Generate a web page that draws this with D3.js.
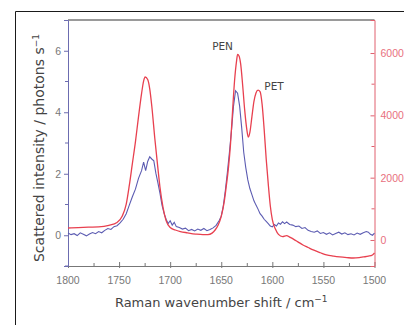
<!DOCTYPE html>
<html lang="en">
<head>
<meta charset="utf-8">
<title>Raman spectra</title>
<script src="https://d3js.org/d3.v7.min.js"></script>
<style>
  body { margin: 0; background: #fff; }
  svg { display: block; font-family: "DejaVu Sans", sans-serif; }
</style>
</head>
<body>
<div id="chart"></div>
<script>
// wavenumber (cm-1) and scattered intensity (photons s-1), blue trace, left axis
var blueShift = [1800,1797,1794,1791,1788,1785,1782,1779,1776,1773,1770,1767,1764,1761,1758,1755,1752,1749,1746,1743,
  1740,1737,1734,1731,1728,1726,1724,1722,1720,1718,1716,1714,1712,1710,1708,1706,1704,1702,1700,1698,
  1696,1694,1691,1688,1685,1682,1679,1676,1673,1670,1667,1664,1661,1658,1655,1652,1650,1648,1646,1644,
  1642,1640,1638,1636,1634,1632,1630,1628,1626,1624,1622,1620,1618,1616,1614,1612,1610,1608,1606,1604,
  1602,1600,1598,1596,1594,1592,1590,1588,1586,1583,1580,1577,1574,1571,1568,1565,1562,1559,1556,1553,
  1550,1547,1544,1541,1538,1535,1532,1529,1526,1523,1520,1517,1514,1511,1508,1506,1504,1502,1500];
var blueIntensity = [0.07,0.02,0.05,-0.01,0.08,0.03,-0.02,0.04,0.09,0.05,0.12,0.08,0.16,0.22,0.19,0.28,0.31,0.40,0.52,0.70,
  0.98,1.25,1.50,1.85,2.10,2.38,2.10,2.40,2.55,2.48,2.42,2.02,1.70,1.37,0.98,0.72,0.52,0.38,0.47,0.33,
  0.42,0.28,0.25,0.20,0.23,0.15,0.19,0.14,0.20,0.16,0.22,0.15,0.19,0.24,0.32,0.48,0.62,0.95,1.45,2.05,
  2.70,3.40,4.20,4.70,4.62,4.20,3.50,2.70,2.20,1.80,1.52,1.32,1.12,0.98,0.85,0.70,0.62,0.52,0.45,0.38,
  0.30,0.27,0.35,0.30,0.40,0.36,0.44,0.38,0.43,0.35,0.33,0.28,0.30,0.22,0.25,0.16,0.12,0.10,0.14,0.06,
  0.09,0.03,0.08,0.01,0.06,0.10,0.04,0.08,0.02,0.05,0.01,0.07,0.03,0.08,0.12,0.10,0.03,0.00,0.07];

// red trace, right axis (counts)
var redShift = [1800,1790,1780,1770,1760,1752,1747,1743,1740,1737,1734,1731,1728,1726,1724.5,1722,1720,1718,1715,1712,
  1710,1707,1704,1700,1695,1690,1683,1675,1668,1663,1659,1656,1653,1650,1647,1645,1643,1641,1639,1637,
  1635,1634,1632.5,1631,1629,1627,1625,1623.5,1622,1620,1618,1616,1614,1612,1610,1608,1606,1604,1602,1600,
  1597,1594,1590,1586,1583,1579,1575,1570,1565,1560,1553,1547,1540,1534,1527,1521,1515,1511,1506,1502,1500];
var redCounts = [385,395,410,420,470,560,760,1150,1750,2450,3150,3950,4700,5100,5230,5150,4850,4300,3250,2300,
  1700,1050,620,400,320,270,230,190,170,170,220,320,480,760,1250,1750,2300,3050,4100,5100,
  5750,5960,5900,5650,4950,4150,3550,3300,3450,3950,4450,4720,4810,4760,4350,3550,2600,1800,1100,650,
  350,180,110,140,90,20,-60,-160,-240,-320,-410,-480,-520,-545,-565,-578,-565,-545,-520,-480,-420];

var xTicks = [1800,1750,1700,1650,1600,1550,1500];
var leftTicks = [0,2,4,6];
var rightTicks = [0,2000,4000,6000];
var peakLabels = ["PEN","PET"];
var peakShift = [1636,1613];

var width = 404, height = 325;
var plotL = 68, plotR = 374.5, plotT = 20, plotB = 266;

var svg = d3.select('#chart').append('svg')
  .attr('width', width)
  .attr('height', height);

// outer frame (runs past the right and bottom edges)
svg.append('path')
  .attr('d', 'M15.5,' + height + 'V11.5H' + width)
  .attr('fill', 'none')
  .attr('stroke', '#1a1a1a')
  .attr('stroke-width', 1);

var x = d3.scaleLinear().domain([1800, 1500]).range([plotL, plotR]);
var yL = d3.scaleLinear().domain([-1, 7]).range([plotB, plotT]);
var yR = d3.scaleLinear().domain([-835, 7060]).range([plotB, plotT]);

// top border of the plot
svg.append('line')
  .attr('x1', plotL).attr('x2', plotR)
  .attr('y1', plotT).attr('y2', plotT)
  .attr('stroke', '#9a9a9a').attr('stroke-width', 2);

// bottom axis
var gx = svg.append('g').attr('transform', 'translate(0,' + plotB + ')');
gx.call(d3.axisBottom(x).tickValues(d3.range(1800, 1499, -25)).tickSize(0).tickFormat(''));
gx.selectAll('.tick line').remove();
gx.selectAll('.tick').append('line')
  .attr('y1', function(d) { return d % 50 === 0 ? 2 : 0; })
  .attr('y2', function(d) { return d % 50 === 0 ? -4 : -3; })
  .attr('stroke', '#777');
gx.select('.domain').attr('stroke', '#777');
gx.selectAll('.xlab')
  .data(xTicks)
  .enter().append('text')
  .attr('x', function(d) { return x(d); })
  .attr('y', 18)
  .attr('text-anchor', 'middle')
  .attr('fill', '#777')
  .style('font-size', '10.5px')
  .text(function(d) { return d; });

// left axis
var gl = svg.append('g').attr('transform', 'translate(' + plotL + ',0)');
gl.call(d3.axisLeft(yL).tickValues(leftTicks).tickSize(4).tickPadding(3));
gl.selectAll('.tick line').attr('stroke', '#6c6cb0');
gl.select('.domain').attr('stroke', '#6c6cb0');
gl.selectAll('.tick text').attr('fill', '#777').style('font-size', '10.5px');
gl.selectAll('.minor')
  .data([-1,1,3,5])
  .enter().append('line')
  .attr('x1', -3).attr('x2', 0)
  .attr('y1', function(d) { return yL(d); })
  .attr('y2', function(d) { return yL(d); })
  .attr('stroke', '#6c6cb0');

// right axis
var gr = svg.append('g').attr('transform', 'translate(' + plotR + ',0)');
gr.call(d3.axisRight(yR).tickValues(rightTicks).tickSize(-4).tickPadding(6).tickFormat(d3.format('d')));
gr.selectAll('.tick line').attr('stroke', '#e0606e');
gr.select('.domain').attr('stroke', '#e0606e');
gr.selectAll('.tick text').attr('fill', '#e8707e').style('font-size', '10.5px');
gr.selectAll('.minor')
  .data([1000,3000,5000])
  .enter().append('line')
  .attr('x1', -3).attr('x2', 0)
  .attr('y1', function(d) { return yR(d); })
  .attr('y2', function(d) { return yR(d); })
  .attr('stroke', '#e0606e');

// traces
var blueLine = d3.line()
  .x(function(d, i) { return x(blueShift[i]); })
  .y(function(d) { return yL(d); });
svg.append('path')
  .attr('d', blueLine(blueIntensity))
  .attr('fill', 'none')
  .attr('stroke', '#5c5cb2')
  .attr('stroke-width', 1.1);

var redLine = d3.line()
  .x(function(d, i) { return x(redShift[i]); })
  .y(function(d) { return yR(d); })
  .curve(d3.curveMonotoneX);
svg.append('path')
  .attr('d', redLine(redCounts))
  .attr('fill', 'none')
  .attr('stroke', '#e8404f')
  .attr('stroke-width', 1.3);

// peak labels
svg.selectAll('.peak')
  .data(peakLabels)
  .enter().append('text')
  .attr('x', function(d, i) { return i === 0 ? x(peakShift[i]) - 13 : x(peakShift[i]) + 15; })
  .attr('y', function(d, i) { return i === 0 ? 50 : 90; })
  .attr('text-anchor', 'middle')
  .attr('fill', '#444')
  .style('font-size', '10.5px')
  .text(function(d) { return d; });

// axis titles
var xt = svg.append('text')
  .attr('x', (plotL + plotR) / 2)
  .attr('y', 307)
  .attr('text-anchor', 'middle')
  .attr('fill', '#444')
  .style('font-size', '13px');
xt.append('tspan').text('Raman wavenumber shift / cm');
xt.append('tspan').attr('dy', -5).style('font-size', '9px').text('\u22121');

var yt = svg.append('text')
  .attr('transform', 'translate(44,148) rotate(-90)')
  .attr('text-anchor', 'middle')
  .attr('fill', '#444')
  .style('font-size', '14px');
yt.append('tspan').text('Scattered intensity / photons s');
yt.append('tspan').attr('dy', -5).style('font-size', '9px').text('\u22121');
</script>
</body>
</html>
